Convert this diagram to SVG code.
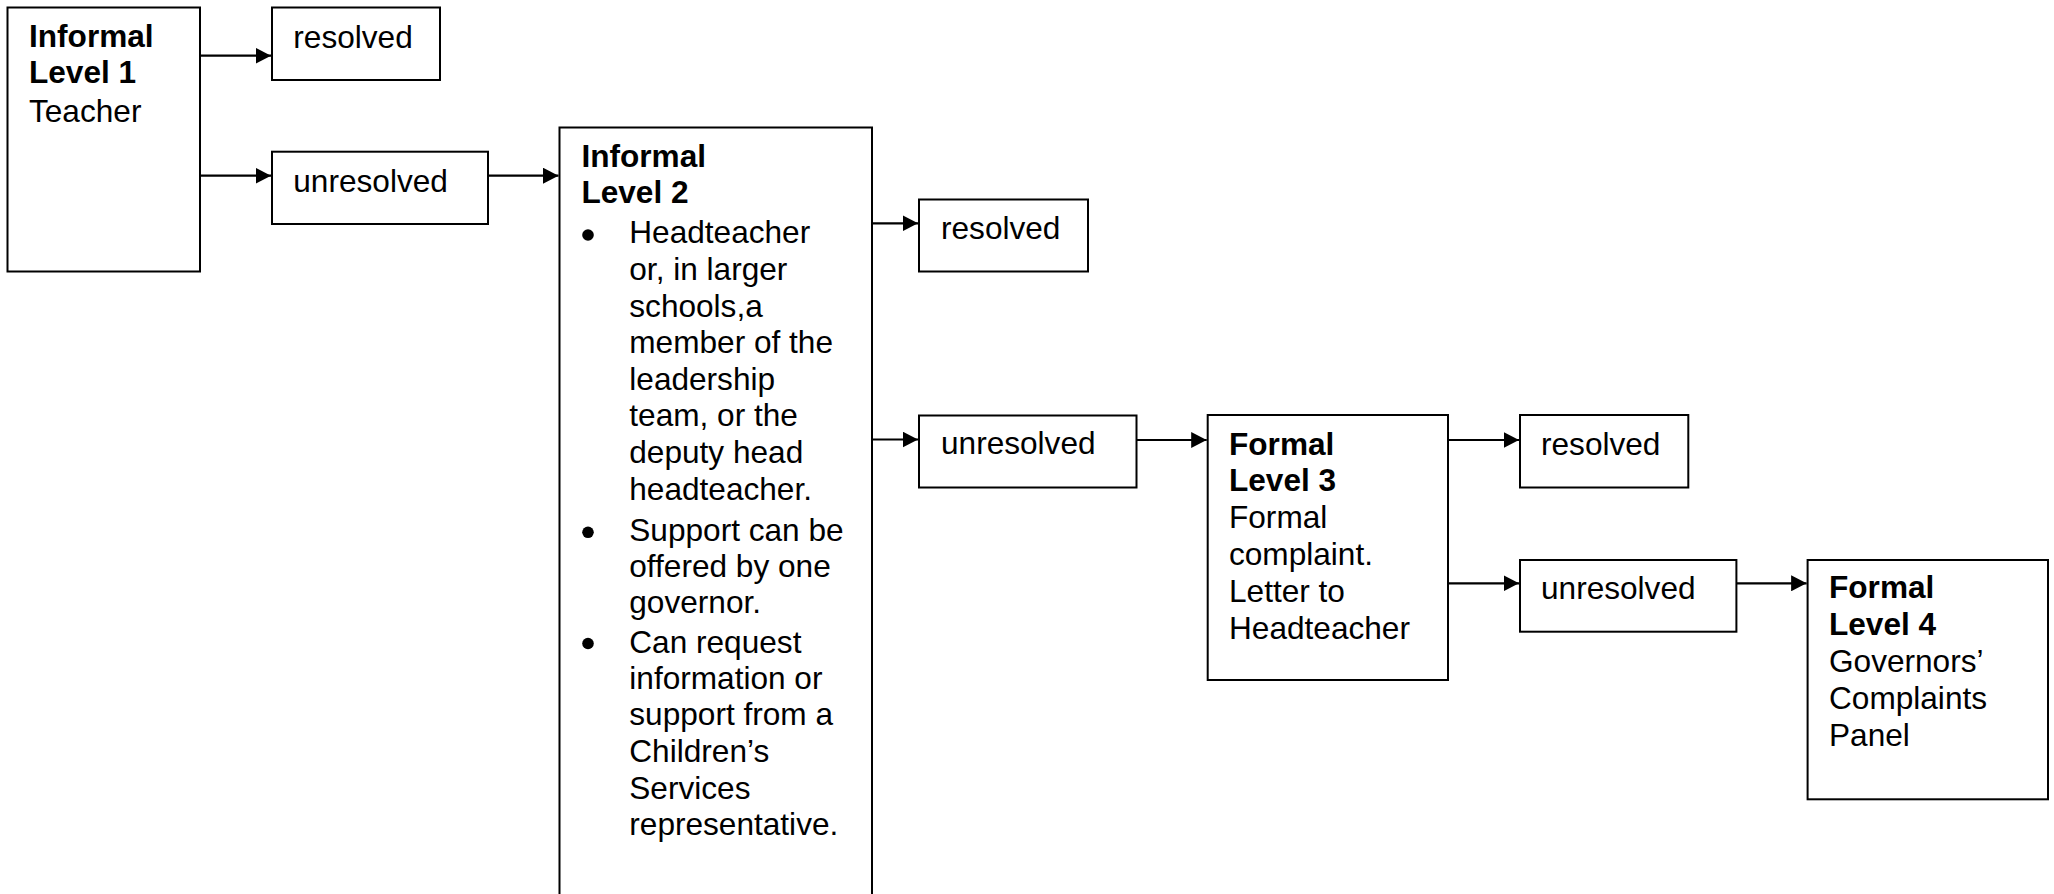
<svg xmlns="http://www.w3.org/2000/svg" width="2054" height="894" viewBox="0 0 2054 894">
<defs>
<style>
.box{fill:#fff;stroke:#000;stroke-width:2}
.t{font-family:"Liberation Sans",Arial,sans-serif;font-size:31.6px;fill:#000}
.b{font-weight:bold}
.c{stroke:#000;stroke-width:2.2;fill:none;marker-end:url(#ah)}
</style>
<marker id="ah" markerUnits="userSpaceOnUse" markerWidth="16" markerHeight="16" refX="15.5" refY="8" orient="auto">
<path d="M0,0 L15.5,8 L0,16 z" fill="#000"/>
</marker>
</defs>
<rect width="2054" height="894" fill="#fff"/>
<g id="connectors">
<line class="c" x1="200" y1="55.7" x2="271" y2="55.7"/>
<line class="c" x1="200" y1="175.7" x2="271" y2="175.7"/>
<line class="c" x1="488" y1="175.7" x2="558.5" y2="175.7"/>
<line class="c" x1="872" y1="223.3" x2="918" y2="223.3"/>
<line class="c" x1="872" y1="439.5" x2="918" y2="439.5"/>
<line class="c" x1="1136.5" y1="440" x2="1206.7" y2="440"/>
<line class="c" x1="1448" y1="440" x2="1519" y2="440"/>
<line class="c" x1="1448" y1="583.3" x2="1519" y2="583.3"/>
<line class="c" x1="1736.4" y1="583.3" x2="1806.6" y2="583.3"/>
</g>
<g id="level1">
<rect class="box" x="7.5" y="7.5" width="192.5" height="264"/>
<text class="t" x="29"><tspan class="b" x="29" y="46.7">Informal</tspan><tspan class="b" x="29" y="83.3">Level 1</tspan><tspan x="29" y="121.7">Teacher</tspan></text>
</g>
<g id="resolved1">
<rect class="box" x="272" y="7.5" width="168" height="72.5"/>
<text class="t" x="293.3" y="47.7">resolved</text>
</g>
<g id="unresolved1">
<rect class="box" x="272" y="151.7" width="216" height="72.3"/>
<text class="t" x="293.3" y="191.7">unresolved</text>
</g>
<g id="level2">
<rect class="box" x="559.5" y="127.5" width="312.5" height="780"/>
<text class="t"><tspan class="b" x="581.4" y="166.7">Informal</tspan><tspan class="b" x="581.4" y="203.3">Level 2</tspan></text>
<circle cx="588" cy="235" r="5.8" fill="#000"/>
<circle cx="588" cy="532.3" r="5.8" fill="#000"/>
<circle cx="588" cy="643.5" r="5.8" fill="#000"/>
<text class="t"><tspan x="629.3" y="243.3">Headteacher</tspan><tspan x="629.3" y="280.3">or, in larger</tspan><tspan x="629.3" y="316.7">schools,a</tspan><tspan x="629.3" y="353.3">member of the</tspan><tspan x="629.3" y="390">leadership</tspan><tspan x="629.3" y="426.3">team, or the</tspan><tspan x="629.3" y="462.8">deputy head</tspan><tspan x="629.3" y="499.5">headteacher.</tspan><tspan x="629.3" y="541">Support can be</tspan><tspan x="629.3" y="576.7">offered by one</tspan><tspan x="629.3" y="612.7">governor.</tspan><tspan x="629.3" y="652.7">Can request</tspan><tspan x="629.3" y="689.3">information or</tspan><tspan x="629.3" y="725">support from a</tspan><tspan x="629.3" y="762.3">Children’s</tspan><tspan x="629.3" y="799">Services</tspan><tspan x="629.3" y="835">representative.</tspan></text>
</g>
<g id="resolved2">
<rect class="box" x="919" y="199.5" width="169" height="72"/>
<text class="t" x="941" y="239.3">resolved</text>
</g>
<g id="unresolved2">
<rect class="box" x="919" y="415.5" width="217.5" height="72"/>
<text class="t" x="941" y="454.3">unresolved</text>
</g>
<g id="level3">
<rect class="box" x="1207.7" y="415" width="240.3" height="265"/>
<text class="t"><tspan class="b" x="1229" y="455">Formal</tspan><tspan class="b" x="1229" y="491.3">Level 3</tspan><tspan x="1229" y="528">Formal</tspan><tspan x="1229" y="565">complaint.</tspan><tspan x="1229" y="601.7">Letter to</tspan><tspan x="1229" y="638.7">Headteacher</tspan></text>
</g>
<g id="resolved3">
<rect class="box" x="1520" y="415" width="168.3" height="72.5"/>
<text class="t" x="1541" y="455">resolved</text>
</g>
<g id="unresolved3">
<rect class="box" x="1520" y="560" width="216.4" height="71.7"/>
<text class="t" x="1541" y="599">unresolved</text>
</g>
<g id="level4">
<rect class="box" x="1807.6" y="560" width="240.4" height="239.3"/>
<text class="t"><tspan class="b" x="1829" y="598.3">Formal</tspan><tspan class="b" x="1829" y="635">Level 4</tspan><tspan x="1829" y="672.3">Governors’</tspan><tspan x="1829" y="708.5">Complaints</tspan><tspan x="1829" y="746">Panel</tspan></text>
</g>
</svg>
